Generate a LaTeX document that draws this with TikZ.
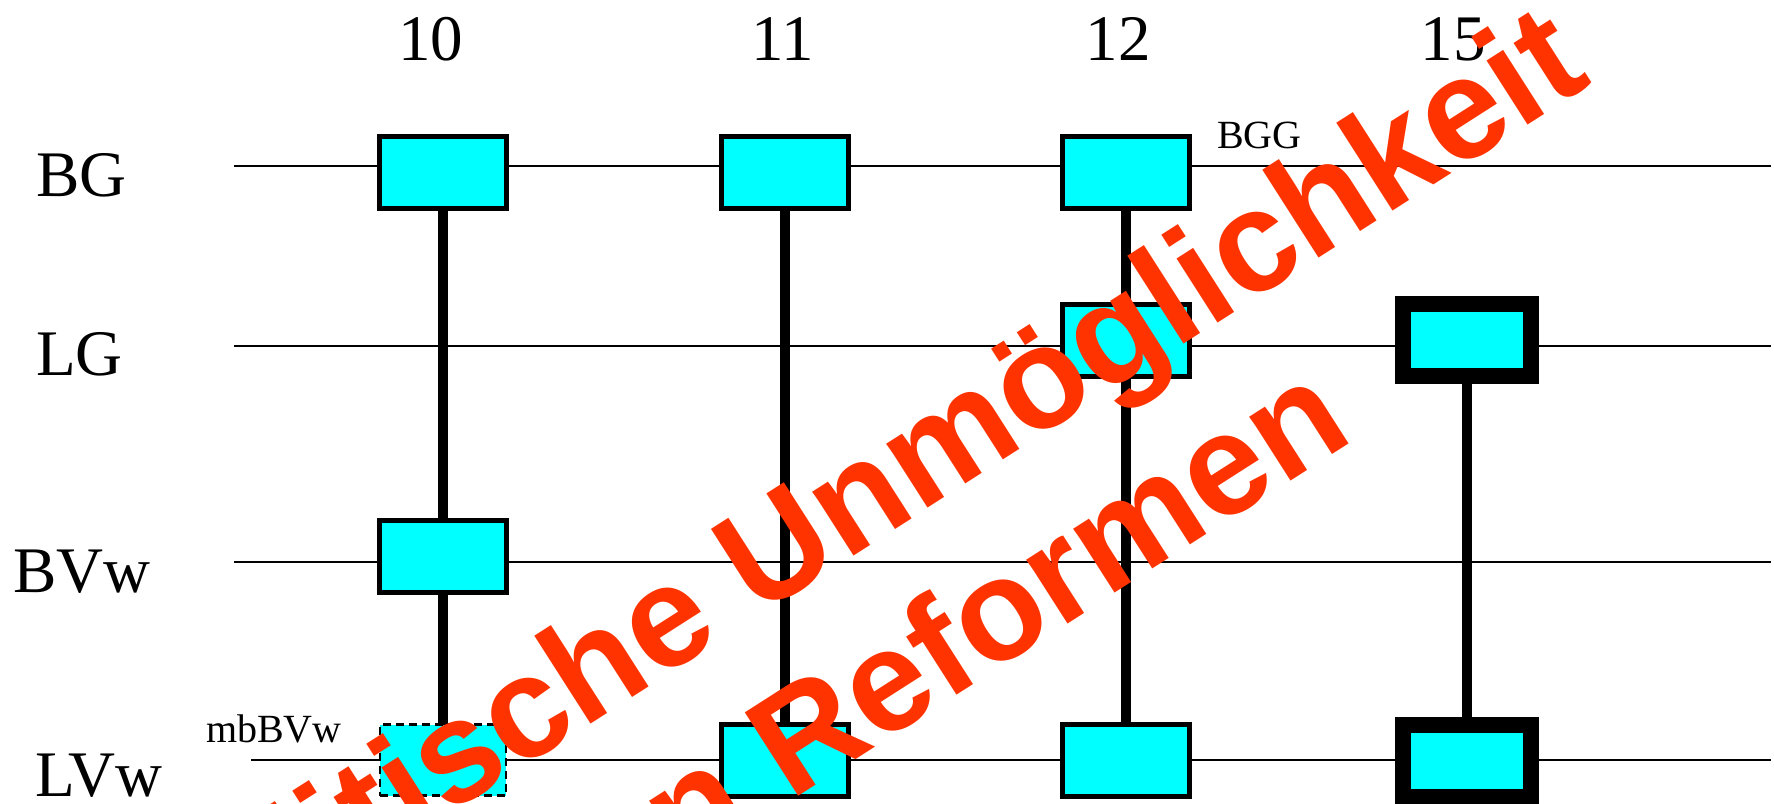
\documentclass[tikz,border=0pt]{standalone}
\usepackage{fontspec}
\setmainfont{Liberation Serif}
\newfontfamily\stampfont{Liberation Sans}
\usetikzlibrary{backgrounds}
\definecolor{stampred}{RGB}{255,51,0}
\definecolor{cellcyan}{RGB}{0,255,255}
\begin{document}
\begin{tikzpicture}[x=1pt,y=-1pt,
  every node/.style={inner sep=0pt, outer sep=0pt},
  cell/.style={draw=black, fill=cellcyan, line width=5pt, minimum width=127pt, minimum height=72pt},
  heavycell/.style={cell, line width=16pt, minimum width=128pt},
  dashedcell/.style={cell, line width=2.5pt, dash pattern=on 8pt off 5pt, minimum width=126pt, minimum height=71pt},
  rowline/.style={line width=2pt},
  link/.style={line width=10pt},
  collabel/.style={font=\fontsize{65}{65}\selectfont, anchor=base},
  rowlabel/.style={font=\fontsize{65}{65}\selectfont, anchor=base west},
  smalllabel/.style={font=\fontsize{40}{40}\selectfont, anchor=base west},
  stamp/.style={font=\stampfont\bfseries\fontsize{144}{175}\selectfont, text=stampred, anchor=base west, rotate=32.6}]
\useasboundingbox (0,0) rectangle (1774,803);
\clip (0,0) rectangle (1774,803);

% column labels
\node[collabel] (c10) at (430.5,60) {10};
\node[collabel] (c11) at (783,60) {11};
\node[collabel] (c12) at (1118,60) {12};
\node[collabel] (c15) at (1453,60) {15};

% row labels
\node[rowlabel] (rBG) at (36,196) {BG};
\node[rowlabel] (rLG) at (36,375) {LG};
\node[rowlabel] (rBVw) at (13,592) {BVw};
\node[rowlabel] (rLVw) at (35,796) {LVw};

% small labels
\node[smalllabel] (lBGG) at (1217,148.5) {BGG};
\node[smalllabel] (lmb) at (206,742) {mbBVw};

% cells
\node[cell] (bg10) at (443,172.5) {};
\node[cell] (bg11) at (785,172.5) {};
\node[cell] (bg12) at (1126,172.5) {};
\node[cell] (lg12) at (1126,340) {};
\node[heavycell] (lg15) at (1467,340) {};
\node[cell] (bv10) at (443,556.5) {};
\node[dashedcell] (lv10) at (443,760) {};
\node[cell] (lv11) at (785,760) {};
\node[cell] (lv12) at (1126,760.5) {};
\node[heavycell] (lv15) at (1467,761) {};

\begin{pgfonlayer}{background}
  \coordinate (bgL) at (234,166);  \coordinate (bgR) at (1771,166);
  \coordinate (lgL) at (234,346);  \coordinate (lgR) at (1771,346);
  \coordinate (bvL) at (234,562);  \coordinate (bvR) at (1771,562);
  \coordinate (lvL) at (251,760);  \coordinate (lvR) at (1771,760);
  \draw[rowline] (bgL) -- (bgR);
  \draw[rowline] (lgL) -- (lgR);
  \draw[rowline] (bvL) -- (bvR);
  \draw[rowline] (lvL) -- (lvR);
  \draw[link] (bg10) -- (bv10);
  \draw[link] (bv10) -- (lv10);
  \draw[link] (bg11) -- (lv11);
  \draw[link] (bg12) -- (lg12);
  \draw[link] (lg12) -- (lv12);
  \draw[link] (lg15) -- (lv15);
\end{pgfonlayer}

% overlay stamp
\node[stamp] (stampA) at (151.3,1005.1) {Politische Unmöglichkeit};
\node[stamp] (stampB) at (540.9,960.9) {von Reformen};
\end{tikzpicture}
\end{document}
